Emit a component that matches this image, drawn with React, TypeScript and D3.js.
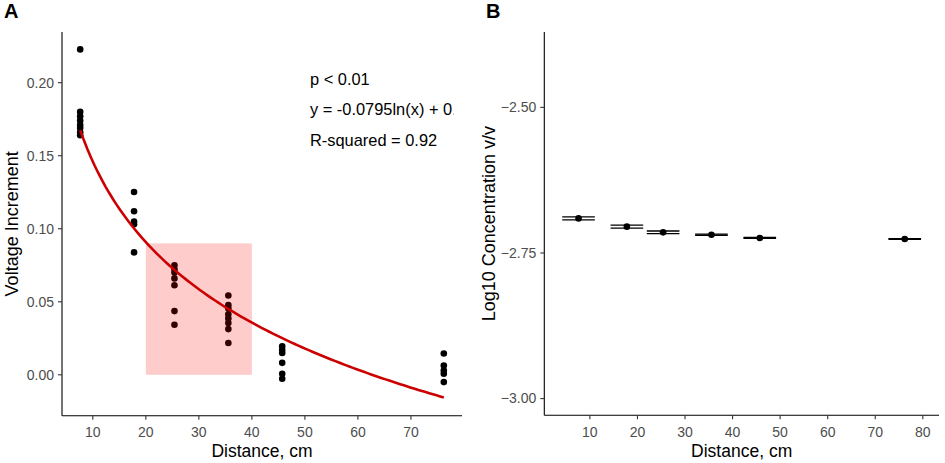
import React from "react";
import * as d3 from "d3";

// distances (cm) used in both panels
const distances = [7.62, 17.78, 25.4, 35.56, 45.72, 76.2];

// panel A: voltage increment readings per distance
const voltageReadings: number[][] = [
  [0.2228, 0.18, 0.177, 0.174, 0.171, 0.169, 0.166, 0.164],
  [0.1252, 0.112, 0.105, 0.103, 0.0838],
  [0.075, 0.0722, 0.07, 0.066, 0.0613, 0.0436, 0.0343],
  [0.0543, 0.0477, 0.0454, 0.0415, 0.0386, 0.0354, 0.0313, 0.0218],
  [0.0195, 0.0172, 0.015, 0.0082, 0.0007, -0.0027],
  [0.0146, 0.0063, 0.0029, 0.0007, -0.005],
];

// fitted log model printed on the chart
const fitSlope = -0.0795;
const fitIntercept = 0.329;
const annotations = ["p < 0.01", "y = -0.0795ln(x) + 0.33", "R-squared = 0.92"];

// highlighted region
const regionX = [20, 40];
const regionY = [0, 0.09];

// panel B: mean log10 concentration and half error
const concMeans = [-2.6906, -2.7048, -2.7146, -2.7186, -2.7242, -2.726];
const concErrors = [0.0026, 0.0025, 0.0023, 0.001, 0.0008, 0.0008];

const ticksAx = [10, 20, 30, 40, 50, 60, 70];
const ticksAy = [0, 0.05, 0.1, 0.15, 0.2];
const ticksBx = [10, 20, 30, 40, 50, 60, 70, 80];
const ticksBy = [-3, -2.75, -2.5];

const W = 945;
const H = 463;
const font = "'Liberation Sans', Arial, sans-serif";
const tickColor = "#4d4d4d";

const A = { left: 62, right: 462, top: 32, bottom: 415.7 };
const B = { left: 544.3, right: 939, top: 32, bottom: 415.3 };

const xA = d3.scaleLinear().domain([4.19, 79.63]).range([A.left, A.right]);
const yA = d3.scaleLinear().domain([-0.028, 0.2347]).range([A.bottom, A.top]);
const xB = d3.scaleLinear().domain([0.42, 83.4]).range([B.left, B.right]);
const yB = d3.scaleLinear().domain([-3.0287, -2.3706]).range([B.bottom, B.top]);

const barWidth = 6.86;
const fmt2 = d3.format(".2f");

const fitLine = d3
  .line<number>()
  .x((d) => xA(d))
  .y((d) => yA(fitSlope * Math.log(d) + fitIntercept));

const fitXs = d3.range(100 + 1).map(
  (i) => distances[0] + ((distances[distances.length - 1] - distances[0]) * i) / 100
);

type Box = { left: number; right: number; top: number; bottom: number };

const Axes = ({
  box,
  x,
  y,
  xticks,
  yticks,
  xlabel,
  ylabel,
  ylabelX,
}: {
  box: Box;
  x: d3.ScaleLinear<number, number>;
  y: d3.ScaleLinear<number, number>;
  xticks: number[];
  yticks: number[];
  xlabel: string;
  ylabel: string;
  ylabelX: number;
}) => {
  const midY = (box.top + box.bottom) / 2;
  return (
    <g fontFamily={font}>
      <line x1={box.left} x2={box.right} y1={box.bottom} y2={box.bottom} stroke="#000" strokeWidth={1.1} />
      <line x1={box.left} x2={box.left} y1={box.top} y2={box.bottom} stroke="#000" strokeWidth={1.1} />
      {xticks.map((t) => (
        <g key={"x" + t}>
          <line x1={x(t)} x2={x(t)} y1={box.bottom} y2={box.bottom + 4} stroke="#333" strokeWidth={1.1} />
          <text x={x(t)} y={436.5} textAnchor="middle" fontSize={14} fill={tickColor}>
            {t}
          </text>
        </g>
      ))}
      {yticks.map((t) => (
        <g key={"y" + t}>
          <line x1={box.left - 4} x2={box.left} y1={y(t)} y2={y(t)} stroke="#333" strokeWidth={1.1} />
          <text x={box.left - 8} y={y(t)} dy="0.35em" textAnchor="end" fontSize={14} fill={tickColor}>
            {fmt2(t)}
          </text>
        </g>
      ))}
      <text x={(box.left + box.right) / 2} y={456.5} textAnchor="middle" fontSize={17.5} fill="#000">
        {xlabel}
      </text>
      <text
        transform={`translate(${ylabelX}, ${midY}) rotate(-90)`}
        textAnchor="middle"
        fontSize={18}
        fill="#000"
      >
        {ylabel}
      </text>
    </g>
  );
};

const App = () => {
  return (
    <svg
      width={W}
      height={H}
      style={{ position: "absolute", left: 0, top: 0, background: "#fff" }}
    >
      <defs>
        <clipPath id="clipA">
          <rect x={0} y={0} width={454} height={H} />
        </clipPath>
      </defs>

      {/* panel A */}
      <g clipPath="url(#clipA)">
        {distances.map((d, i) =>
          voltageReadings[i].map((v, j) => (
            <circle key={`${i}-${j}`} cx={xA(d)} cy={yA(v)} r={3.3} fill="#000" />
          ))
        )}
        <rect
          x={xA(regionX[0])}
          y={yA(regionY[1])}
          width={xA(regionX[1]) - xA(regionX[0])}
          height={yA(regionY[0]) - yA(regionY[1])}
          fill="red"
          fillOpacity={0.2}
        />
        <path d={fitLine(fitXs) || ""} fill="none" stroke="#cc0000" strokeWidth={2.6} />
        {annotations.map((t, i) => (
          <text key={t} x={310} y={84.5 + i * 30.8} fontSize={16.4} fontFamily={font} fill="#000">
            {t}
          </text>
        ))}
      </g>
      <Axes
        box={A}
        x={xA}
        y={yA}
        xticks={ticksAx}
        yticks={ticksAy}
        xlabel="Distance, cm"
        ylabel="Voltage Increment"
        ylabelX={18}
      />
      <text x={4} y={18} fontSize={20} fontWeight="bold" fontFamily={font}>
        A
      </text>

      {/* panel B */}
      {distances.map((d, i) => {
        const x0 = xB(d - barWidth / 2);
        const x1 = xB(d + barWidth / 2);
        const yTop = yB(concMeans[i] + concErrors[i]);
        const yBot = yB(concMeans[i] - concErrors[i]);
        return (
          <g key={"b" + i}>
            <line x1={xB(d)} x2={xB(d)} y1={yTop} y2={yBot} stroke="#000" strokeWidth={1.1} />
            <line x1={x0} x2={x1} y1={yTop} y2={yTop} stroke="#000" strokeWidth={1.3} />
            <line x1={x0} x2={x1} y1={yBot} y2={yBot} stroke="#000" strokeWidth={1.3} />
            <circle cx={xB(d)} cy={yB(concMeans[i])} r={3.3} fill="#000" />
          </g>
        );
      })}
      <Axes
        box={B}
        x={xB}
        y={yB}
        xticks={ticksBx}
        yticks={ticksBy}
        xlabel="Distance, cm"
        ylabel="Log10 Concentration v/v"
        ylabelX={495}
      />
      <text x={486} y={18} fontSize={20} fontWeight="bold" fontFamily={font}>
        B
      </text>
    </svg>
  );
};

export default App;
